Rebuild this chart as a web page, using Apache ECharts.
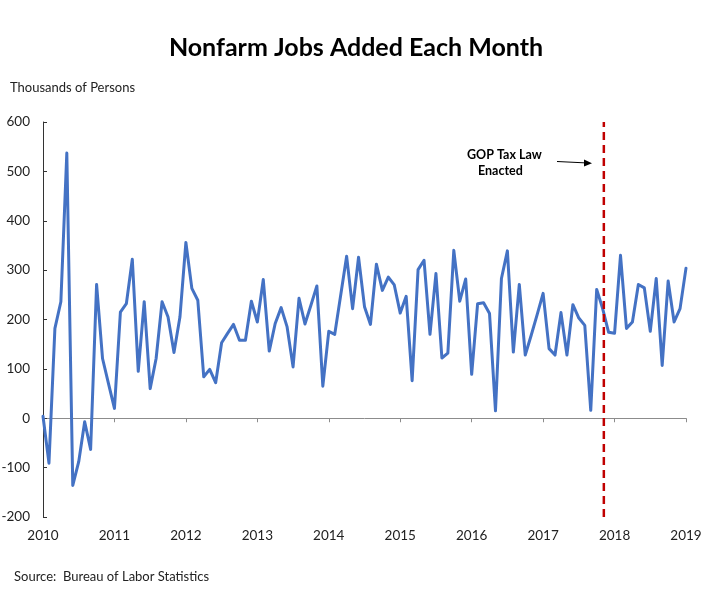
<!DOCTYPE html>
<html>
<head>
<meta charset="utf-8">
<script src="https://cdn.jsdelivr.net/npm/echarts@6/dist/echarts.min.js"></script>
<style>
html,body{margin:0;padding:0;background:#fff;}
#chart{width:712px;height:595px;}
</style>
</head>
<body>
<div id="chart"></div>
<script>
// Monthly nonfarm payroll change, thousands of persons, Jan 2010 .. Jan 2019
const startYear = 2010;
const yearTicks = [2010, 2011, 2012, 2013, 2014, 2015, 2016, 2017, 2018, 2019];
const jobs2010 = [4, -91, 182, 236, 537, -136, -88, -7, -63, 271, 121, 70];
const jobs2011 = [20, 215, 232, 322, 95, 236, 60, 121, 236, 205, 133, 205];
const jobs2012 = [356, 263, 239, 84, 99, 72, 153, 172, 190, 158, 158, 237];
const jobs2013 = [195, 281, 136, 192, 224, 185, 104, 243, 191, 229, 268, 65];
const jobs2014 = [176, 170, 249, 328, 222, 326, 226, 190, 312, 259, 286, 270];
const jobs2015 = [213, 247, 76, 301, 320, 170, 293, 122, 132, 340, 237, 282];
const jobs2016 = [89, 232, 234, 212, 15, 283, 339, 134, 271, 128, 168, 210];
const jobs2017 = [253, 141, 128, 214, 128, 230, 203, 188, 16, 261, 222, 174];
const jobs2018 = [172, 330, 182, 195, 271, 264, 176, 283, 107, 278, 195, 222];
const jobs2019 = [304];
const yTicks = [-200, -100, 0, 100, 200, 300, 400, 500, 600];
const taxLawMonth = 94.2;           // months since Jan 2010
const taxLine = [[taxLawMonth, -200], [taxLawMonth, 600]];

const jobs = [].concat(jobs2010, jobs2011, jobs2012, jobs2013, jobs2014,
  jobs2015, jobs2016, jobs2017, jobs2018, jobs2019);
const seriesData = jobs.map((v, i) => [i, v]);
const xMax = (yearTicks[yearTicks.length - 1] - startYear) * 12;

const FONT = 'Lato';
const chart = echarts.init(document.getElementById('chart'), null, {renderer: 'canvas'});
const option = {
  animation: false,
  backgroundColor: '#ffffff',
  title: {
    text: 'Nonfarm Jobs Added Each Month',
    left: 'center', top: 30,
    textStyle: {fontFamily: FONT, fontSize: 25, fontWeight: 'bold', color: '#000'}
  },
  grid: {left: 43, right: 26, top: 122, bottom: 78, containLabel: false, outerBoundsMode: 'none'},
  xAxis: [{
    type: 'value', min: 0, max: xMax, interval: 12,
    axisLine: {onZero: true, lineStyle: {color: '#8c8c8c', width: 1}},
    axisTick: {show: true, inside: false, length: 4, lineStyle: {color: '#8c8c8c'}},
    axisLabel: {show: false},
    splitLine: {show: false}
  }, {
    type: 'value', min: 0, max: xMax, interval: 12, position: 'bottom',
    axisLine: {show: false, onZero: false},
    axisTick: {show: false},
    axisLabel: {
      show: true, margin: 12, fontFamily: FONT, fontSize: 13.5, color: '#222',
      formatter: v => String(startYear + Math.round(v / 12))
    },
    splitLine: {show: false}
  }],
  yAxis: {
    type: 'value', min: yTicks[0], max: yTicks[yTicks.length - 1], interval: 100,
    axisLine: {show: true, lineStyle: {color: '#333', width: 1}},
    axisTick: {show: true, inside: true, length: 4, lineStyle: {color: '#333'}},
    axisLabel: {margin: 13, fontFamily: FONT, fontSize: 13.5, color: '#222'},
    splitLine: {show: false}
  },
  series: [{
    type: 'line',
    xAxisIndex: 0,
    data: seriesData,
    showSymbol: false,
    symbol: 'none',
    lineStyle: {color: '#4472C4', width: 3, join: 'round', cap: 'round'},
    z: 3
  }, {
    type: 'line',
    xAxisIndex: 0,
    data: taxLine,
    showSymbol: false,
    symbol: 'none',
    lineStyle: {color: '#C00000', width: 2.5, type: [8, 5]},
    z: 4
  }],
  graphic: [{
    type: 'text', left: 10, top: 81,
    style: {text: 'Thousands of Persons', fontFamily: FONT, fontSize: 13, fill: '#222'}
  }, {
    type: 'text', left: 467, top: 148,
    style: {text: 'GOP Tax Law', fontFamily: FONT, fontSize: 12.5, fontWeight: 'bold', fill: '#000'}
  }, {
    type: 'text', left: 478, top: 164,
    style: {text: 'Enacted', fontFamily: FONT, fontSize: 12.5, fontWeight: 'bold', fill: '#000'}
  }, {
    type: 'line',
    shape: {x1: 557, y1: 161.5, x2: 588, y2: 163},
    style: {stroke: '#000', lineWidth: 1}
  }, {
    type: 'polygon',
    shape: {points: [[592, 163.2], [584, 159.6], [584, 166.4]]},
    style: {fill: '#000'}
  }, {
    type: 'text', left: 14, top: 570,
    style: {text: 'Source:  Bureau of Labor Statistics', fontFamily: FONT, fontSize: 13, fill: '#222'}
  }]
};
chart.setOption(option);
</script>
</body>
</html>
